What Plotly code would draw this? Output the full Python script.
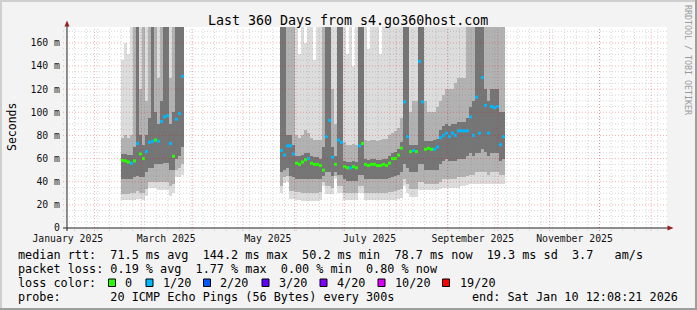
import pandas as pd
import plotly.graph_objects as go

# ---------------- data ----------------
TITLE = "Last 360 Days from s4.go360host.com"
END_TIME = "2026-01-10 12:08:21"
SPAN_DAYS = 360
STEP_MIN = 2592  # width of one smoke column (minutes)

month_label_dates = ["2025-01-16", "2025-03-16", "2025-05-16",
                     "2025-07-16", "2025-09-16", "2025-11-16"]
month_labels = ["January 2025", "March 2025", "May 2025",
                "July 2025", "September 2025", "November 2025"]
y_tick_values = [0, 20, 40, 60, 80, 100, 120, 140, 160]
y_tick_labels = ["0", "20 m", "40 m", "60 m", "80 m", "100 m", "120 m", "140 m", "160 m"]

loss_levels = [0, 1, 2, 3, 4, 10, 19]
loss_colors = ["#26ff00", "#00b8ff", "#0059ff", "#5e00ff", "#7e00ff", "#dd00ff", "#ff0000"]
loss_labels = ["0", "1/20", "2/20", "3/20", "4/20", "10/20", "19/20"]

stat_line_rtt = "median rtt:  71.5 ms avg  144.2 ms max  50.2 ms min  78.7 ms now  19.3 ms sd  3.7   am/s"
stat_line_loss = "packet loss: 0.19 % avg  1.77 % max  0.00 % min  0.80 % now"
stat_line_color = "loss color:"
stat_line_probe = "probe:       20 ICMP Echo Pings (56 Bytes) every 300s"
stat_line_end = "end: Sat Jan 10 12:08:21 2026"
y_title = "Seconds"
side_text = "RRDTOOL / TOBI OETIKER"

# segment 1 (ms values)
seg1_start = "2025-02-16 21:44"
seg1_median = [58.5, 58, 57, 56, 58, 73, 64, 60, 66, 74, 75, 76, 75, 92, 96, 97, 73, 62, 94, 99, 131]
seg1_loss = [0, 0, 0, 1, 0, 1, 0, 0, 1, 1, 1, 0, 1, 1, 1, 1, 1, 0, 1, 1, 1]
seg1_lo = [24, 24, 24, 24, 24, 25, 25, 24, 28, 35, 35, 35, 33, 33, 33, 33, 28, 30, 44, 44, 46]
seg1_mlo = [29, 29, 29, 30, 30, 32, 30, 30, 34, 40, 40, 40, 40, 40, 40, 40, 36, 38, 50, 52, 55]
seg1_ilo = [42, 42, 42, 42, 44, 45, 44, 44, 48, 52, 52, 55, 55, 55, 56, 56, 50, 50, 60, 62, 70]
seg1_ihi = [64, 64, 63, 63, 70, 175, 80, 72, 80, 95, 175, 100, 90, 110, 175, 175, 90, 100, 175, 175, 175]
seg1_mhi = [78, 80, 78, 80, 175, 175, 120, 175, 110, 175, 175, 175, 130, 175, 175, 175, 130, 175, 175, 175, 175]
seg1_hi = [145, 160, 150, 175, 175, 175, 175, 175, 175, 175, 175, 175, 175, 175, 175, 175, 175, 175, 175, 175, 175]

# segment 2 (ms values)
seg2_start = "2025-05-23 07:20"
seg2_median = [67, 63, 71, 71, 64, 56, 55, 57, 59, 60,
               56, 55, 55, 54, 50, 79, 93, 61, 55, 76,
               74, 53, 52, 52, 53, 52, 71, 73, 55, 54,
               55, 55, 54, 54, 55, 54, 56, 60, 60, 63,
               69, 109, 79, 66, 67, 66, 144, 109, 68, 69,
               68, 68, 70, 78, 80, 82, 79, 82, 80, 84,
               84, 84, 84, 96, 80, 113, 82, 130, 106, 82,
               105, 104, 105, 72, 79]
seg2_loss = [1, 1, 1, 1, 1, 0, 0, 0, 0, 1,
             0, 0, 0, 0, 0, 1, 1, 1, 0, 1,
             1, 0, 0, 1, 0, 0, 1, 0, 0, 0,
             0, 0, 0, 0, 0, 0, 0, 0, 0, 0,
             0, 1, 1, 0, 1, 0, 1, 1, 0, 0,
             0, 1, 1, 1, 1, 1, 1, 1, 1, 1,
             1, 1, 1, 1, 1, 1, 1, 1, 1, 1,
             1, 1, 1, 1, 1]
seg2_lo = [30, 39, 40, 25, 25, 24, 24, 23, 23, 23,
           23, 23, 23, 24, 36, 29, 29, 29, 42, 30,
           30, 24, 24, 24, 24, 24, 30, 30, 24, 24,
           24, 24, 24, 24, 24, 24, 24, 24, 24, 25,
           26, 36, 30, 27, 27, 27, 33, 33, 33, 33,
           33, 33, 33, 34, 35, 35, 35, 35, 35, 35,
           36, 36, 37, 38, 38, 38, 38, 38, 38, 38,
           38, 38, 38, 38, 38]
seg2_mlo = [36, 44, 45, 32, 32, 31, 31, 30, 30, 30,
            30, 30, 30, 31, 40, 36, 36, 35, 45, 36,
            36, 30, 30, 30, 30, 30, 36, 36, 30, 30,
            30, 30, 30, 30, 30, 30, 31, 31, 32, 33,
            34, 42, 38, 34, 34, 34, 40, 40, 38, 38,
            38, 38, 38, 40, 42, 42, 42, 42, 42, 44,
            44, 44, 45, 46, 46, 48, 48, 48, 48, 46,
            48, 48, 48, 46, 46]
seg2_ilo = [48, 50, 52, 45, 44, 42, 42, 42, 42, 42,
            42, 42, 42, 42, 45, 48, 48, 45, 48, 46,
            46, 42, 41, 41, 41, 41, 46, 46, 42, 42,
            42, 42, 42, 42, 42, 42, 43, 44, 45, 46,
            48, 55, 52, 48, 48, 48, 55, 55, 50, 50,
            50, 50, 50, 55, 58, 60, 58, 58, 58, 60,
            60, 60, 62, 65, 62, 65, 65, 68, 66, 62,
            65, 65, 65, 58, 60]
seg2_ihi = [175, 175, 80, 80, 72, 62, 62, 63, 65, 65,
            62, 61, 61, 60, 70, 175, 175, 70, 62, 175,
            175, 58, 57, 57, 58, 57, 175, 175, 60, 59,
            60, 60, 59, 59, 60, 60, 62, 65, 66, 68,
            74, 175, 175, 72, 72, 72, 175, 175, 75, 75,
            75, 76, 77, 85, 88, 90, 88, 90, 90, 92,
            92, 92, 95, 105, 110, 175, 175, 175, 120, 110,
            120, 120, 120, 100, 100]
seg2_mhi = [175, 175, 175, 175, 175, 80, 78, 80, 85, 82,
            78, 76, 76, 76, 175, 175, 175, 120, 90, 175,
            175, 74, 72, 72, 73, 72, 175, 175, 76, 75,
            76, 76, 75, 76, 77, 77, 80, 82, 84, 86,
            95, 175, 175, 100, 110, 110, 175, 175, 110, 100,
            100, 100, 105, 110, 115, 120, 120, 120, 125, 130,
            130, 130, 175, 175, 175, 175, 175, 175, 175, 175,
            175, 175, 175, 175, 175]
seg2_hi = [175, 175, 175, 175, 175, 175, 150, 175, 160, 175,
           175, 145, 175, 175, 175, 175, 175, 175, 175, 175,
           175, 175, 150, 175, 140, 175, 175, 175, 175, 155,
           175, 175, 175, 150, 175, 175, 175, 175, 175, 175,
           175, 175, 175, 175, 175, 175, 175, 175, 175, 175,
           175, 175, 175, 175, 175, 175, 175, 175, 175, 175,
           175, 175, 175, 175, 175, 175, 175, 175, 175, 175,
           175, 175, 175, 175, 175]

# ---------------- styling ----------------
FONT = "DejaVu Sans Mono"
W, H = 697, 310
ML, MR, MT, MB = 67, 30, 27, 82
PW, PH = W - ML - MR, H - MT - MB
Y_MAX = 173.7
SMOKE = ["#DCDCDC", "#B2B2B2", "#757575"]
MINOR_GRID = "rgba(130,130,130,0.32)"
MAJOR_GRID = "rgba(235,0,0,0.30)"
ARROW = "#9a1f1f"


def px(x):
    return (x - ML) / PW


def py(y):
    return (MT + PH - y) / PH


end = pd.Timestamp(END_TIME)
start = end - pd.Timedelta(days=SPAN_DAYS)
step = pd.Timedelta(minutes=STEP_MIN)
step_ms = STEP_MIN * 60000

x1 = list(pd.date_range(seg1_start, periods=len(seg1_median), freq=step))
x2 = list(pd.date_range(seg2_start, periods=len(seg2_median), freq=step))
xs = x1 + x2
layers = [
    (seg1_lo + seg2_lo, seg1_hi + seg2_hi, SMOKE[0]),
    (seg1_mlo + seg2_mlo, seg1_mhi + seg2_mhi, SMOKE[1]),
    (seg1_ilo + seg2_ilo, seg1_ihi + seg2_ihi, SMOKE[2]),
]

fig = go.Figure()
for lower, upper, col in layers:
    fig.add_trace(go.Bar(
        x=xs, base=lower, y=[u - l for l, u in zip(lower, upper)],
        width=step_ms, offset=0, marker=dict(color=col, line=dict(width=0)),
        hoverinfo="skip", showlegend=False))


def loss_color(v):
    c = loss_colors[0]
    for lvl, colr in zip(loss_levels, loss_colors):
        if v >= lvl:
            c = colr
    return c


med = seg1_median + seg2_median
loss = seg1_loss + seg2_loss
fig.add_trace(go.Scatter(
    x=[x + step / 2 for x in xs], y=med, mode="markers",
    marker=dict(symbol="square", size=3, color=[loss_color(v) for v in loss], line=dict(width=0)),
    hoverinfo="skip", showlegend=False))

shapes = []
# grid
for d in pd.date_range("2025-01-20", end, freq="7D"):
    shapes.append(dict(type="line", xref="x", yref="paper", x0=d, x1=d, y0=-3 / PH, y1=1,
                       line=dict(color=MINOR_GRID, width=1, dash="1px,2px"), layer="above"))
for v in range(5, 175, 5):
    if v % 20:
        shapes.append(dict(type="line", xref="paper", yref="y", x0=-4 / PW, x1=1, y0=v, y1=v,
                           line=dict(color=MINOR_GRID, width=1, dash="1px,2px"), layer="above"))
for d in pd.date_range("2025-02-01", end, freq="MS"):
    shapes.append(dict(type="line", xref="x", yref="paper", x0=d, x1=d, y0=-3 / PH, y1=1,
                       line=dict(color=MAJOR_GRID, width=1, dash="1px,2px"), layer="above"))
for v in y_tick_values[1:]:
    shapes.append(dict(type="line", xref="paper", yref="y", x0=-4 / PW, x1=1, y0=v, y1=v,
                       line=dict(color=MAJOR_GRID, width=1, dash="1px,2px"), layer="above"))
# axes
shapes.append(dict(type="line", xref="paper", yref="paper", x0=px(63), x1=px(669), y0=0, y1=0,
                   line=dict(color="#222", width=1), layer="above"))
shapes.append(dict(type="line", xref="paper", yref="paper", x0=0, x1=0, y0=py(231), y1=py(25),
                   line=dict(color="#222", width=1), layer="above"))
shapes.append(dict(type="path", xref="paper", yref="paper",
                   path=f"M {px(64.5)},{py(26.5)} L {px(67)},{py(20.5)} L {px(69.5)},{py(26.5)} Z",
                   fillcolor=ARROW, line=dict(width=0), layer="above"))
shapes.append(dict(type="path", xref="paper", yref="paper",
                   path=f"M {px(667.5)},{py(225.5)} L {px(673.5)},{py(228)} L {px(667.5)},{py(230.5)} Z",
                   fillcolor=ARROW, line=dict(width=0), layer="above"))
# frame
shapes += [
    dict(type="rect", xref="paper", yref="paper", x0=px(0), x1=px(W), y0=py(0), y1=py(2),
         fillcolor="#CFCFCF", line=dict(width=0), layer="above"),
    dict(type="rect", xref="paper", yref="paper", x0=px(0), x1=px(2), y0=py(0), y1=py(H),
         fillcolor="#CFCFCF", line=dict(width=0), layer="above"),
    dict(type="rect", xref="paper", yref="paper", x0=px(W - 2), x1=px(W), y0=py(0), y1=py(H),
         fillcolor="#9E9E9E", line=dict(width=0), layer="above"),
    dict(type="rect", xref="paper", yref="paper", x0=px(0), x1=px(W), y0=py(H - 2), y1=py(H),
         fillcolor="#9E9E9E", line=dict(width=0), layer="above"),
]

annotations = []


def text(x, y, s, size, xanchor="left", color="#000", angle=0):
    annotations.append(dict(xref="paper", yref="paper", x=px(x), y=py(y), text=s, showarrow=False,
                            xanchor=xanchor, yanchor="middle", textangle=angle,
                            font=dict(family=FONT, size=size, color=color)))


text(348, 20, TITLE, 13.3, xanchor="center")
text(12, 127, y_title, 11.5, xanchor="center", angle=-90)
text(688, 60, side_text, 8.3, xanchor="center", color="#9a9a9a", angle=90)
LF = 11.8
text(16, 254.5, stat_line_rtt.replace(" ", "&nbsp;"), LF)
text(16, 268.5, stat_line_loss.replace(" ", "&nbsp;"), LF)
text(16, 282.5, stat_line_color.replace(" ", "&nbsp;"), LF)
text(16, 296.5, stat_line_probe.replace(" ", "&nbsp;"), LF)
text(680, 296.5, stat_line_end.replace(" ", "&nbsp;"), LF, xanchor="right")

box_x = [108.5, 146, 203.5, 262, 320, 378, 442.5]
label_x = [123, 160.5, 218, 276.5, 335, 393, 457.5]
for bx, lx, col, lab in zip(box_x, label_x, loss_colors, loss_labels):
    shapes.append(dict(type="rect", xref="paper", yref="paper", x0=px(bx), x1=px(bx + 7),
                       y0=py(279), y1=py(286.5), fillcolor=col,
                       line=dict(color="#000", width=1), layer="above"))
    text(lx, 282.5, lab, LF)

fig.update_layout(
    width=W, height=H, margin=dict(l=ML, r=MR, t=MT, b=MB),
    paper_bgcolor="#F3F3F3", plot_bgcolor="#FFFFFF",
    barmode="overlay", bargap=0, showlegend=False,
    shapes=shapes, annotations=annotations,
    xaxis=dict(type="date", range=[start, end], showgrid=False, zeroline=False, showline=False,
               tickvals=month_label_dates, ticktext=month_labels, ticks="",
               tickfont=dict(family=FONT, size=9.8, color="#111"), ticklabelstandoff=3,
               fixedrange=True),
    yaxis=dict(range=[0, Y_MAX], showgrid=False, zeroline=False, showline=False,
               tickvals=y_tick_values, ticktext=y_tick_labels, ticks="",
               tickfont=dict(family=FONT, size=9.8, color="#111"), ticklabelstandoff=6,
               fixedrange=True),
)

fig.write_html("out.html")
